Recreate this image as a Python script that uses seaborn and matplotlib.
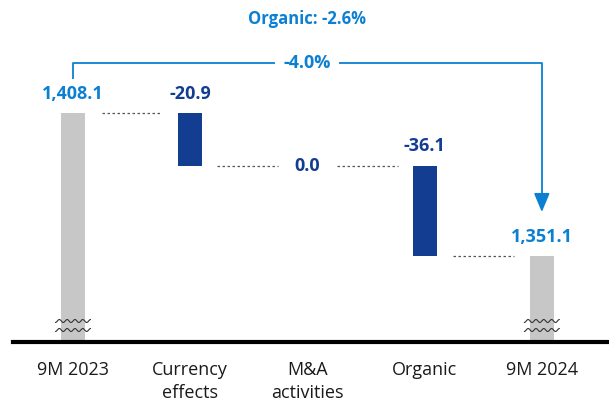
import numpy as np
import pandas as pd
import matplotlib.pyplot as plt
import seaborn as sns

sns.set_theme(style="white")
plt.rcParams['font.family'] = ['Open Sans', 'DejaVu Sans']

# data
categories = ['9M 2023', 'Currency\neffects', 'M&A\nactivities', 'Organic', '9M 2024']
values = [1408.1, -20.9, 0.0, -36.1, 1351.1]
value_labels = ['1,408.1', '-20.9', '0.0', '-36.1', '1,351.1']
is_total = [True, False, False, False, True]
total_change = '-4.0%'
organic_change = 'Organic: -2.6%'

grey = '#c6c7c6'
dark_blue = '#123d91'
light_blue = '#0b80d2'

# waterfall levels
bottoms, heights, tops = [], [], []
level = 0.0
for v, tot in zip(values, is_total):
    if tot:
        bottoms.append(0.0)
        heights.append(v)
        level = v
    else:
        new = level + v
        bottoms.append(min(level, new))
        heights.append(abs(v))
        level = new
    tops.append(bottoms[-1] + heights[-1])
levels = [tops[0]]
for v in values[1:-1]:
    levels.append(levels[-1] + v)

df = pd.DataFrame({'cat': categories, 'height': heights})

px = 0.4  # value units per pixel
base = values[-1] - 86 * px
fig = plt.figure(figsize=(6.09, 4.03), dpi=100)
ax = fig.add_axes([13 / 609, 61 / 403, 596 / 609, 342 / 403])

sns.barplot(data=df, x='cat', y='height', bottom=bottoms, width=0.205,
            color=grey, linewidth=0, ax=ax)
for p, tot in zip(ax.patches, is_total):
    p.set_facecolor(grey if tot else dark_blue)

ax.set_xlim(-0.512, 4.573)
ax.set_ylim(base, base + 342 * px)

# connectors
for i in range(len(values) - 1):
    y = levels[i]
    if i == 1:
        ax.plot([i + 0.23, i + 0.75], [y, y], ls=(0, (2, 2)), color='#555555', lw=0.9)
        ax.plot([i + 1.25, i + 1.77], [y, y], ls=(0, (2, 2)), color='#555555', lw=0.9)
    elif i == 2:
        continue
    else:
        ax.plot([i + 0.245, i + 0.76], [y, y], ls=(0, (2, 2)), color='#555555', lw=0.9)

# value labels
for i, (lab, tot) in enumerate(zip(value_labels, is_total)):
    if i == 2:
        ax.text(i, levels[1], lab, ha='center', va='center', fontsize=13,
                fontweight='bold', color=dark_blue)
    else:
        ax.annotate(lab, (i, tops[i]), xytext=(0, 14), textcoords='offset points',
                    ha='center', va='center', fontsize=13, fontweight='bold',
                    color=light_blue if tot else dark_blue)

# axis break marks
xs = np.linspace(-0.15, 0.15, 60)
for i in [0, 4]:
    for off in [21, 12]:
        ax.plot(i + xs, base + off * px + 0.6 * np.sin(xs / 0.3 * 2 * np.pi * 4.5),
                color='#333333', lw=0.8)

# bracket with arrow
top_y = base + (342 - 63) * px
ax.plot([0, 0, 4, 4], [base + (342 - 79) * px, top_y, top_y, base + (342 - 200) * px],
        color=light_blue, lw=1.3, solid_capstyle='butt')
ax.annotate('', xy=(4, base + (342 - 212) * px), xytext=(4, base + (342 - 198) * px),
            arrowprops=dict(arrowstyle='-|>,head_length=0.95,head_width=0.4',
                            color=light_blue, lw=1.3, shrinkA=0, shrinkB=0))
ax.text(2, top_y, total_change, ha='center', va='center', fontsize=13,
        fontweight='bold', color=light_blue,
        bbox=dict(facecolor='white', edgecolor='none', pad=6))
ax.text(2, base + (342 - 19) * px, organic_change, ha='center', va='center',
        fontsize=12, fontweight='bold', color=light_blue)

sns.despine(ax=ax, left=True)
ax.spines['bottom'].set_linewidth(3)
ax.spines['bottom'].set_color('black')
ax.set_yticks([])
ax.set_xlabel('')
ax.set_ylabel('')
ax.tick_params(axis='x', length=0, pad=14, labelsize=13, labelcolor='#1a1a1a')
for t in ax.get_xticklabels():
    t.set_linespacing(1.3)
    t.set_verticalalignment('top')

fig.savefig('out.png', dpi=100)
